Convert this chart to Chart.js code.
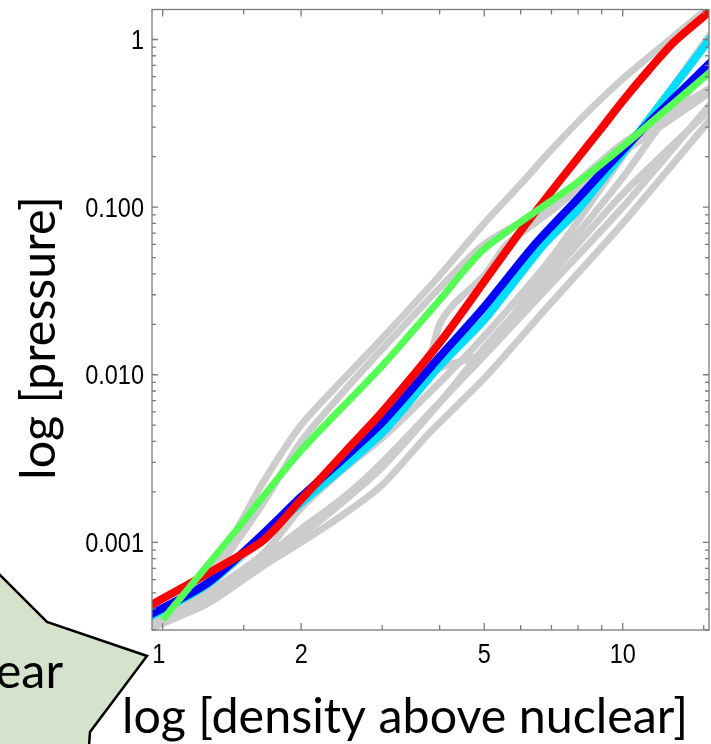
<!DOCTYPE html>
<html>
<head>
<meta charset="utf-8">
<script src="https://cdn.jsdelivr.net/npm/chart.js"></script>
<title>log pressure vs density</title>
<style>
  html, body { margin: 0; padding: 0; background: #fff; }
</style>
</head>
<body>
<canvas id="eosChart" width="711" height="744"></canvas>
<script>
// ---- data (density above nuclear, pressure) ----
const xTicks = [1, 2, 5, 10];
const xTickLabels = ['1', '2', '5', '10'];
const yTicks = [0.001, 0.01, 0.1, 1];
const yTickLabels = ['0.001', '0.010', '0.100', '1'];

const redX   = [0.94, 1.25, 1.65, 2, 2.5, 3, 4, 5, 6, 7.4, 8.9, 10, 11.4, 13, 15.6];
const redY   = [0.00042, 0.00065, 0.00102, 0.0018, 0.0035, 0.006, 0.0155, 0.036, 0.072, 0.151, 0.285, 0.43, 0.66, 0.98, 1.5];
const blueX  = [0.94, 1.25, 1.65, 2, 3, 4, 5, 6.4, 8.05, 9.35, 11.8, 15.6];
const blueY  = [0.00037, 0.00057, 0.00112, 0.00187, 0.0052, 0.0128, 0.0254, 0.0587, 0.115, 0.18, 0.35, 0.74];
const cyanX  = [0.94, 1.25, 1.65, 2, 3, 4, 5, 6.7, 8, 10.9, 15.6];
const cyanY  = [0.00036, 0.00056, 0.0011, 0.00172, 0.0045, 0.0113, 0.0213, 0.0587, 0.0967, 0.285, 1.04];
const greenX = [1.0, 1.4, 2, 3, 4, 5, 8, 10, 15.6];
const greenY = [0.000346, 0.00106, 0.00353, 0.0113, 0.0279, 0.0563, 0.141, 0.23, 0.65];

// the grey band of other models
const grayX1 = [0.95, 1.25, 1.65, 2, 2.5, 3, 4, 5, 6, 7, 8.5, 10, 12, 15.6];
const grayY1 = [0.00035, 0.00061, 0.00226, 0.00502, 0.00973, 0.0165, 0.0391, 0.08, 0.137, 0.22, 0.383, 0.582, 0.885, 1.6];
const grayX2 = [0.95, 1.25, 1.65, 2, 2.5, 3, 4, 5, 7, 10, 15.6];
const grayY2 = [0.00035, 0.0006, 0.0017, 0.004, 0.0082, 0.0142, 0.033, 0.06, 0.105, 0.24, 0.52];
const grayX3 = [0.95, 1.25, 1.65, 2, 3, 3.75, 4, 4.3, 5, 5.6, 7, 10, 15.6];
const grayY3 = [0.00036, 0.00058, 0.00105, 0.0017, 0.005, 0.0115, 0.02, 0.0265, 0.039, 0.06, 0.095, 0.21, 0.49];
const grayX4 = [0.95, 1.25, 1.65, 2, 2.5, 3, 3.6, 4, 5, 6, 7.6, 10, 12, 15.6];
const grayY4 = [0.00035, 0.00055, 0.00105, 0.0017, 0.003, 0.0046, 0.0085, 0.011, 0.0135, 0.026, 0.0587, 0.15, 0.3, 0.7];
const grayX5 = [0.95, 1.25, 1.65, 2, 2.5, 3, 3.8, 5, 7, 10, 15.6];
const grayY5 = [0.00034, 0.00048, 0.0008, 0.0012, 0.0019, 0.003, 0.0059, 0.013, 0.035, 0.1, 0.42];
const grayX6 = [0.95, 1.25, 1.65, 2, 2.5, 3, 3.8, 5, 7, 10, 15.6];
const grayY6 = [0.00031, 0.00043, 0.00072, 0.001, 0.0015, 0.0022, 0.0045, 0.0095, 0.027, 0.08, 0.34];
const grayX7 = [0.95, 1.25, 1.65, 2, 2.5, 3, 4, 5, 7, 10, 15.6];
const grayY7 = [0.00034, 0.0005, 0.00085, 0.0016, 0.0028, 0.0042, 0.009, 0.017, 0.05, 0.2, 1.1];
const grayX8 = [0.95, 1.25, 1.65, 2, 2.5, 3, 4, 5, 7, 10, 15.6];
const grayY8 = [0.00033, 0.00046, 0.00075, 0.0011, 0.0018, 0.0028, 0.0068, 0.0145, 0.04, 0.12, 0.39];

const grays = [
  [grayX1, grayY1], [grayX2, grayY2], [grayX3, grayY3], [grayX4, grayY4],
  [grayX5, grayY5], [grayX6, grayY6], [grayX7, grayY7], [grayX8, grayY8]
];

function pts(xs, ys) {
  return xs.map((x, i) => ({ x: x, y: ys[i] }));
}

function line(xs, ys, color, width) {
  return {
    data: pts(xs, ys),
    borderColor: color,
    borderWidth: width,
    pointRadius: 0,
    tension: 0.25,
    borderJoinStyle: 'round',
    clip: 0
  };
}

// first dataset is drawn on top
const datasets = [
  line(greenX, greenY, '#55ff55', 7),
  line(redX, redY, '#ff0000', 8),
  line(blueX, blueY, '#0000ff', 8),
  line(cyanX, cyanY, '#00ddff', 8)
];
grays.forEach(g => datasets.push(line(g[0], g[1], '#cccccc', 7)));

// narrow tick numbers: regular face squeezed sideways
const TICK_PX = 27, SQUEEZE = 0.87;
function narrowText(ctx, text, x, y, align) {
  ctx.save();
  ctx.translate(x, y);
  ctx.scale(SQUEEZE, 1);
  ctx.textAlign = align;
  ctx.fillText(text, 0, 0);
  ctx.restore();
}

// frame, inward ticks, tick numbers, axis titles and the callout star
const decor = {
  id: 'decor',
  afterDraw(chart) {
    const ctx = chart.ctx;
    const a = chart.chartArea;
    const xs = chart.scales.x, ys = chart.scales.y;
    ctx.save();
    ctx.strokeStyle = '#7a7a7a';
    ctx.lineWidth = 1.3;
    ctx.strokeRect(a.left, a.top, a.right - a.left, a.bottom - a.top);

    // x ticks (bottom and top)
    const xMinor = [1, 1.5, 2, 3, 4, 5, 6, 7, 8, 9, 10, 15];
    xMinor.forEach(v => {
      const p = xs.getPixelForValue(v);
      const len = xTicks.includes(v) ? 7 : 5;
      ctx.beginPath();
      ctx.moveTo(p, a.bottom); ctx.lineTo(p, a.bottom - len);
      ctx.moveTo(p, a.top); ctx.lineTo(p, a.top + len);
      ctx.stroke();
    });
    // y ticks (left and right)
    for (let d = -4; d <= 0; d++) {
      for (let m = 1; m <= 9; m++) {
        const v = m * Math.pow(10, d);
        if (v < ys.min || v > ys.max) continue;
        const p = ys.getPixelForValue(v);
        const len = m === 1 ? 6 : 4;
        ctx.beginPath();
        ctx.moveTo(a.left, p); ctx.lineTo(a.left + len, p);
        ctx.moveTo(a.right, p); ctx.lineTo(a.right - len, p);
        ctx.stroke();
      }
    }

    // tick numbers
    ctx.fillStyle = '#000';
    ctx.font = TICK_PX + 'px "Liberation Sans"';
    ctx.textBaseline = 'alphabetic';
    const digitHalf = 0.358 * TICK_PX;
    yTicks.forEach((v, i) => {
      narrowText(ctx, yTickLabels[i], a.left - 8, ys.getPixelForValue(v) + digitHalf, 'right');
    });
    xTicks.forEach((v, i) => {
      narrowText(ctx, xTickLabels[i], xs.getPixelForValue(v) - (i === 0 ? 4 : 0), a.bottom + 14 + 2 * digitHalf, 'center');
    });

    // callout star (partly off the page)
    ctx.beginPath();
    ctx.moveTo(-10, 565); ctx.lineTo(47, 622); ctx.lineTo(147, 656);
    ctx.lineTo(90, 732); ctx.lineTo(88, 760); ctx.lineTo(-10, 760); ctx.closePath();
    ctx.fillStyle = '#d5e3cc';
    ctx.fill();
    ctx.beginPath();
    ctx.moveTo(-10, 565); ctx.lineTo(47, 622); ctx.lineTo(147, 656);
    ctx.lineTo(90, 732); ctx.lineTo(88, 760);
    ctx.strokeStyle = '#000';
    ctx.lineWidth = 2.5;
    ctx.lineJoin = 'miter';
    ctx.stroke();

    // titles, sized to the width they take in the picture
    const xTitle = 'log [density above nuclear]';
    ctx.font = '50px Lato';
    const size = 50 * 566 / ctx.measureText(xTitle).width;
    ctx.font = size + 'px Lato';
    ctx.fillStyle = '#000';
    ctx.textAlign = 'center';
    ctx.textBaseline = 'alphabetic';
    ctx.fillText(xTitle, 405, 733);

    ctx.textAlign = 'right';
    ctx.fillText('nuclear', 63, 688);

    ctx.translate(55, 338);
    ctx.rotate(-Math.PI / 2);
    ctx.textAlign = 'center';
    ctx.fillText('log [pressure]', 0, 0);
    ctx.restore();
  }
};

new Chart(document.getElementById('eosChart'), {
  type: 'line',
  data: { datasets: datasets },
  options: {
    responsive: false,
    devicePixelRatio: 1,
    animation: false,
    events: [],
    layout: { padding: { top: 9.5, right: 2, left: 0, bottom: 0 } },
    plugins: { legend: { display: false }, tooltip: { enabled: false } },
    scales: {
      x: {
        type: 'logarithmic',
        min: 0.948,
        max: 15.4,
        grid: { display: false, drawTicks: false },
        border: { display: false },
        afterBuildTicks: s => { s.ticks = xTicks.map(v => ({ value: v })); },
        afterFit: s => { s.height = 114; s.paddingLeft = 0; s.paddingRight = 0; },
        ticks: { display: false }
      },
      y: {
        type: 'logarithmic',
        min: 0.000348,
        max: 1.51,
        grid: { display: false, drawTicks: false },
        border: { display: false },
        afterBuildTicks: s => { s.ticks = yTicks.map(v => ({ value: v })); },
        afterFit: s => { s.width = 152; s.paddingTop = 0; s.paddingBottom = 0; },
        ticks: { display: false }
      }
    }
  },
  plugins: [decor]
});
</script>
</body>
</html>
